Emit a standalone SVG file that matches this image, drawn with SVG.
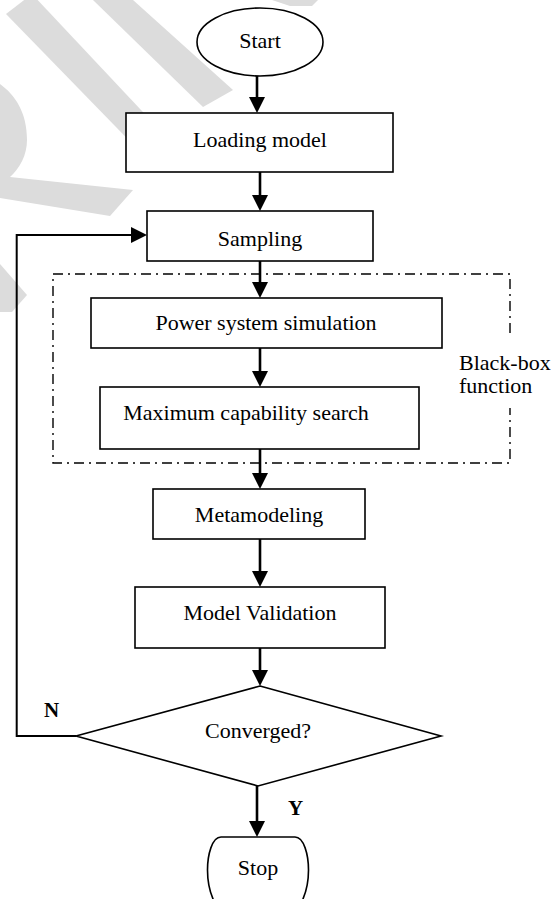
<svg xmlns="http://www.w3.org/2000/svg" width="557" height="899" viewBox="0 0 557 899">
<style>
.wm{fill:#dcdcdc;stroke:none}
.box{fill:#fff;stroke:#000;stroke-width:1.6}
.t{font-family:"Liberation Serif","Times New Roman",serif;font-size:22px;fill:#000;text-anchor:middle}
.tl{font-family:"Liberation Serif","Times New Roman",serif;font-size:22px;fill:#000}
.b{font-weight:bold;font-size:21px}
.arr{fill:none;stroke:#000;stroke-width:2.6;marker-end:url(#ah)}
.fb{fill:none;stroke:#000;stroke-width:2;marker-end:url(#ah)}
.dd{fill:none;stroke:#000;stroke-width:1.4;stroke-dasharray:10 5 2 5}
</style>
<defs>
<marker id="ah" viewBox="0 0 16 16" refX="6" refY="8" markerWidth="16" markerHeight="16" markerUnits="userSpaceOnUse" orient="auto">
<path d="M0,0 L16,8 L0,16 Z" fill="#000"/>
</marker>
</defs>
<rect width="557" height="899" fill="#fff"/>
<g id="watermark">
<polygon class="wm" points="6,14 32,-6 172,143 152,164"/>
<polygon class="wm" points="93,0 133,0 233,90 203,107"/>
<polygon class="wm" points="272,0 318,0 312,6 290,6"/>
<path class="wm" d="M0,84 C15,95 27,112 27,140 C27,155 20,168 10,177 L133,190 L110,216 L0,198 Z"/>
<polygon class="wm" points="0,264 27,295 12,312 0,312"/>
</g>
<g id="blackbox">
<path class="dd" d="M510,333 V274 H53 V463 H510 V408"/>
<text class="tl" x="459" y="370">Black-box</text>
<text class="tl" x="459" y="393">function</text>
</g>
<g id="connectors">
<path class="arr" d="M257,76 V103"/>
<path class="arr" d="M260,172 V201"/>
<path class="arr" d="M260,261 V288"/>
<path class="arr" d="M260,348 V377"/>
<path class="arr" d="M260,449 V479"/>
<path class="arr" d="M260,539 V577"/>
<path class="arr" d="M260,648 V676"/>
<path class="arr" d="M257,786 V827"/>
<path class="fb" d="M76,736 H16.7 V235 H137"/>
<text class="tl b" x="44" y="717">N</text>
<text class="tl b" x="288" y="815">Y</text>
</g>
<g id="start">
<ellipse class="box" cx="260" cy="42" rx="63" ry="34"/>
<text class="t" x="260" y="48">Start</text>
</g>
<g id="loading">
<rect class="box" x="126" y="113" width="267" height="59"/>
<text class="t" x="260" y="147">Loading model</text>
</g>
<g id="sampling">
<rect class="box" x="147" y="211" width="226" height="50"/>
<text class="t" x="260" y="246">Sampling</text>
</g>
<g id="power">
<rect class="box" x="91" y="298" width="351" height="50"/>
<text class="t" x="266" y="330">Power system simulation</text>
</g>
<g id="maxcap">
<rect class="box" x="100" y="387" width="319" height="62"/>
<text class="t" x="246" y="420">Maximum capability search</text>
</g>
<g id="meta">
<rect class="box" x="153" y="489" width="212" height="50"/>
<text class="t" x="259" y="522">Metamodeling</text>
</g>
<g id="validation">
<rect class="box" x="135" y="587" width="250" height="61"/>
<text class="t" x="260" y="620">Model Validation</text>
</g>
<g id="converged">
<polygon class="box" points="260,686 441,736 258,786 76,736"/>
<text class="t" x="258" y="738">Converged?</text>
</g>
<g id="stop">
<path class="box" d="M221,837 H295 C304,837 308.5,855 308.5,870 C308.5,888 304,898 300,905 L216,905 C212,898 207.5,888 207.5,870 C207.5,855 212,837 221,837 Z"/>
<text class="t" x="258" y="875">Stop</text>
</g>
</svg>
